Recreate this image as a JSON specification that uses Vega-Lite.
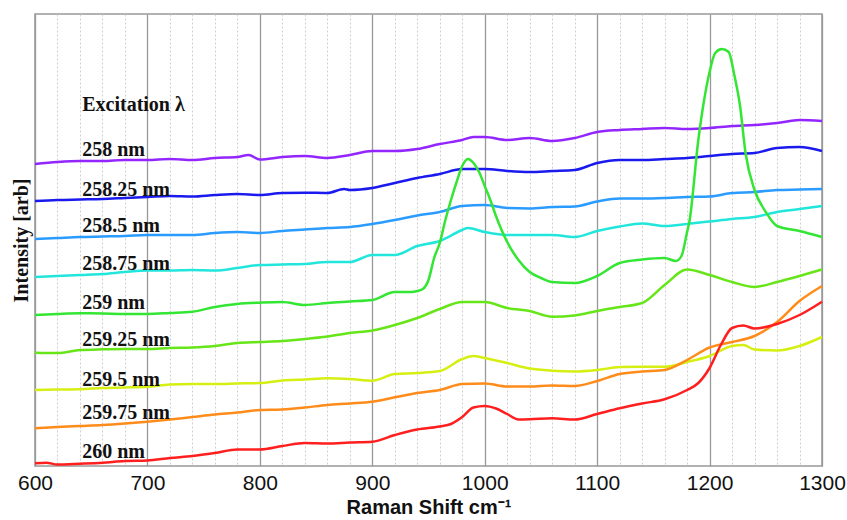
{
  "$schema": "https://vega.github.io/schema/vega-lite/v6.json",
  "autosize": "none",
  "width": 787,
  "height": 452,
  "padding": {"left": 35, "top": 14, "right": 25, "bottom": 54},
  "background": "white",
  "config": {"view": {"stroke": "#999999", "strokeWidth": 1.5}},
  "datasets": {
    "spectra": [
      {"s":"258","x":600,"y":302},{"s":"258","x":620,"y":304},{"s":"258","x":640,"y":305},{"s":"258","x":660,"y":305},{"s":"258","x":680,"y":306},{"s":"258","x":700,"y":306},{"s":"258","x":720,"y":307},{"s":"258","x":740,"y":306},{"s":"258","x":760,"y":308},{"s":"258","x":780,"y":309},{"s":"258","x":790,"y":311},{"s":"258","x":800,"y":306.5},{"s":"258","x":820,"y":309},{"s":"258","x":840,"y":310},{"s":"258","x":860,"y":308},{"s":"258","x":880,"y":311},{"s":"258","x":900,"y":315},{"s":"258","x":920,"y":315},{"s":"258","x":940,"y":317},{"s":"258","x":960,"y":322},{"s":"258","x":980,"y":326},{"s":"258","x":990,"y":329},{"s":"258","x":1000,"y":329},{"s":"258","x":1020,"y":326},{"s":"258","x":1040,"y":328},{"s":"258","x":1060,"y":325},{"s":"258","x":1080,"y":328},{"s":"258","x":1100,"y":334},{"s":"258","x":1120,"y":336},{"s":"258","x":1140,"y":337},{"s":"258","x":1160,"y":338},{"s":"258","x":1180,"y":337},{"s":"258","x":1200,"y":338},{"s":"258","x":1220,"y":340},{"s":"258","x":1240,"y":341},{"s":"258","x":1260,"y":343},{"s":"258","x":1280,"y":346},{"s":"258","x":1300,"y":345},

      {"s":"258.25","x":600,"y":265},{"s":"258.25","x":620,"y":266},{"s":"258.25","x":640,"y":266.5},{"s":"258.25","x":660,"y":267},{"s":"258.25","x":680,"y":268},{"s":"258.25","x":700,"y":269},{"s":"258.25","x":720,"y":270},{"s":"258.25","x":740,"y":269.5},{"s":"258.25","x":760,"y":271},{"s":"258.25","x":780,"y":272},{"s":"258.25","x":800,"y":271},{"s":"258.25","x":820,"y":273},{"s":"258.25","x":840,"y":273.3},{"s":"258.25","x":860,"y":273},{"s":"258.25","x":875,"y":277},{"s":"258.25","x":880,"y":276},{"s":"258.25","x":900,"y":278},{"s":"258.25","x":920,"y":283},{"s":"258.25","x":940,"y":288},{"s":"258.25","x":960,"y":292},{"s":"258.25","x":980,"y":297},{"s":"258.25","x":1000,"y":297},{"s":"258.25","x":1020,"y":295},{"s":"258.25","x":1040,"y":294},{"s":"258.25","x":1060,"y":295},{"s":"258.25","x":1080,"y":296},{"s":"258.25","x":1100,"y":303},{"s":"258.25","x":1120,"y":306},{"s":"258.25","x":1140,"y":306},{"s":"258.25","x":1160,"y":307},{"s":"258.25","x":1180,"y":308},{"s":"258.25","x":1200,"y":310},{"s":"258.25","x":1220,"y":312},{"s":"258.25","x":1240,"y":313},{"s":"258.25","x":1260,"y":318},{"s":"258.25","x":1280,"y":319},{"s":"258.25","x":1300,"y":315},

      {"s":"258.5","x":600,"y":227},{"s":"258.5","x":620,"y":228},{"s":"258.5","x":640,"y":229},{"s":"258.5","x":660,"y":229.5},{"s":"258.5","x":680,"y":230},{"s":"258.5","x":700,"y":231},{"s":"258.5","x":720,"y":231},{"s":"258.5","x":740,"y":231},{"s":"258.5","x":760,"y":233},{"s":"258.5","x":780,"y":234},{"s":"258.5","x":800,"y":233},{"s":"258.5","x":820,"y":235},{"s":"258.5","x":840,"y":236.5},{"s":"258.5","x":860,"y":238},{"s":"258.5","x":880,"y":239},{"s":"258.5","x":900,"y":242},{"s":"258.5","x":920,"y":246},{"s":"258.5","x":940,"y":250.5},{"s":"258.5","x":960,"y":254},{"s":"258.5","x":980,"y":260},{"s":"258.5","x":1000,"y":261},{"s":"258.5","x":1020,"y":258},{"s":"258.5","x":1040,"y":257.5},{"s":"258.5","x":1060,"y":259},{"s":"258.5","x":1080,"y":259.5},{"s":"258.5","x":1100,"y":264.5},{"s":"258.5","x":1120,"y":267.5},{"s":"258.5","x":1140,"y":267.5},{"s":"258.5","x":1160,"y":268},{"s":"258.5","x":1180,"y":269},{"s":"258.5","x":1200,"y":269.5},{"s":"258.5","x":1220,"y":273},{"s":"258.5","x":1240,"y":274},{"s":"258.5","x":1260,"y":276},{"s":"258.5","x":1280,"y":276.5},{"s":"258.5","x":1300,"y":277},

      {"s":"258.75","x":600,"y":189},{"s":"258.75","x":620,"y":190},{"s":"258.75","x":640,"y":191},{"s":"258.75","x":660,"y":192},{"s":"258.75","x":680,"y":194},{"s":"258.75","x":700,"y":195.5},{"s":"258.75","x":720,"y":195.5},{"s":"258.75","x":740,"y":196},{"s":"258.75","x":760,"y":195.5},{"s":"258.75","x":780,"y":198},{"s":"258.75","x":800,"y":201},{"s":"258.75","x":820,"y":201.5},{"s":"258.75","x":840,"y":202},{"s":"258.75","x":860,"y":204},{"s":"258.75","x":880,"y":204},{"s":"258.75","x":900,"y":211},{"s":"258.75","x":920,"y":211},{"s":"258.75","x":940,"y":220},{"s":"258.75","x":960,"y":225},{"s":"258.75","x":980,"y":236},{"s":"258.75","x":985,"y":238},{"s":"258.75","x":1000,"y":234},{"s":"258.75","x":1020,"y":231},{"s":"258.75","x":1040,"y":231},{"s":"258.75","x":1060,"y":231},{"s":"258.75","x":1080,"y":229},{"s":"258.75","x":1100,"y":235},{"s":"258.75","x":1120,"y":239.5},{"s":"258.75","x":1140,"y":242.5},{"s":"258.75","x":1160,"y":240},{"s":"258.75","x":1180,"y":242},{"s":"258.75","x":1200,"y":244.5},{"s":"258.75","x":1220,"y":247},{"s":"258.75","x":1240,"y":249},{"s":"258.75","x":1260,"y":254},{"s":"258.75","x":1280,"y":257},{"s":"258.75","x":1300,"y":260},

      {"s":"259","x":600,"y":151},{"s":"259","x":620,"y":152},{"s":"259","x":640,"y":152.7},{"s":"259","x":660,"y":152.5},{"s":"259","x":680,"y":152},{"s":"259","x":700,"y":152},{"s":"259","x":720,"y":153},{"s":"259","x":740,"y":154.3},{"s":"259","x":760,"y":159},{"s":"259","x":780,"y":162},{"s":"259","x":800,"y":163.3},{"s":"259","x":820,"y":164},{"s":"259","x":840,"y":161},{"s":"259","x":860,"y":163},{"s":"259","x":880,"y":164.5},{"s":"259","x":900,"y":166},{"s":"259","x":920,"y":174},{"s":"259","x":935,"y":174},{"s":"259","x":940,"y":175},{"s":"259","x":945,"y":177},{"s":"259","x":950,"y":186},{"s":"259","x":955,"y":208},{"s":"259","x":960,"y":223},{"s":"259","x":965,"y":246},{"s":"259","x":970,"y":266},{"s":"259","x":975,"y":284},{"s":"259","x":980,"y":300},{"s":"259","x":985,"y":307},{"s":"259","x":990,"y":303},{"s":"259","x":995,"y":294},{"s":"259","x":1000,"y":280},{"s":"259","x":1005,"y":266},{"s":"259","x":1010,"y":250},{"s":"259","x":1015,"y":236},{"s":"259","x":1020,"y":224},{"s":"259","x":1030,"y":206},{"s":"259","x":1040,"y":194},{"s":"259","x":1050,"y":188},{"s":"259","x":1060,"y":184},{"s":"259","x":1080,"y":183},{"s":"259","x":1100,"y":190},{"s":"259","x":1120,"y":203},{"s":"259","x":1140,"y":206.5},{"s":"259","x":1160,"y":208},{"s":"259","x":1170,"y":205},{"s":"259","x":1175,"y":210},{"s":"259","x":1180,"y":234},{"s":"259","x":1182,"y":244},{"s":"259","x":1190,"y":326},{"s":"259","x":1200,"y":394},{"s":"259","x":1205,"y":413},{"s":"259","x":1211,"y":417},{"s":"259","x":1217,"y":414},{"s":"259","x":1222,"y":391},{"s":"259","x":1227,"y":361},{"s":"259","x":1232,"y":313},{"s":"259","x":1240,"y":276},{"s":"259","x":1250,"y":254},{"s":"259","x":1260,"y":240},{"s":"259","x":1280,"y":235},{"s":"259","x":1300,"y":229},

      {"s":"259.25","x":600,"y":113.3},{"s":"259.25","x":620,"y":113},{"s":"259.25","x":640,"y":116},{"s":"259.25","x":660,"y":116.7},{"s":"259.25","x":680,"y":117},{"s":"259.25","x":700,"y":117},{"s":"259.25","x":720,"y":118},{"s":"259.25","x":740,"y":118.5},{"s":"259.25","x":760,"y":120},{"s":"259.25","x":780,"y":123},{"s":"259.25","x":800,"y":124},{"s":"259.25","x":820,"y":125},{"s":"259.25","x":840,"y":127},{"s":"259.25","x":860,"y":129.5},{"s":"259.25","x":880,"y":133},{"s":"259.25","x":900,"y":135.5},{"s":"259.25","x":920,"y":141},{"s":"259.25","x":940,"y":148},{"s":"259.25","x":960,"y":157},{"s":"259.25","x":980,"y":164},{"s":"259.25","x":1000,"y":164},{"s":"259.25","x":1020,"y":158},{"s":"259.25","x":1040,"y":155},{"s":"259.25","x":1060,"y":149.3},{"s":"259.25","x":1080,"y":150.5},{"s":"259.25","x":1100,"y":155},{"s":"259.25","x":1120,"y":159},{"s":"259.25","x":1140,"y":163},{"s":"259.25","x":1160,"y":181},{"s":"259.25","x":1180,"y":196.5},{"s":"259.25","x":1200,"y":191},{"s":"259.25","x":1220,"y":184},{"s":"259.25","x":1240,"y":179},{"s":"259.25","x":1260,"y":184},{"s":"259.25","x":1280,"y":190},{"s":"259.25","x":1300,"y":196.5},

      {"s":"259.5","x":600,"y":76},{"s":"259.5","x":620,"y":76.5},{"s":"259.5","x":640,"y":76.7},{"s":"259.5","x":660,"y":78},{"s":"259.5","x":680,"y":78.5},{"s":"259.5","x":700,"y":79.3},{"s":"259.5","x":720,"y":81.5},{"s":"259.5","x":740,"y":82},{"s":"259.5","x":760,"y":82},{"s":"259.5","x":780,"y":82.5},{"s":"259.5","x":800,"y":83},{"s":"259.5","x":820,"y":85.5},{"s":"259.5","x":840,"y":86.5},{"s":"259.5","x":860,"y":87.7},{"s":"259.5","x":880,"y":87},{"s":"259.5","x":900,"y":85.3},{"s":"259.5","x":920,"y":92},{"s":"259.5","x":940,"y":93},{"s":"259.5","x":960,"y":95},{"s":"259.5","x":980,"y":107},{"s":"259.5","x":990,"y":110},{"s":"259.5","x":1000,"y":108},{"s":"259.5","x":1020,"y":103},{"s":"259.5","x":1040,"y":97.5},{"s":"259.5","x":1060,"y":95.3},{"s":"259.5","x":1080,"y":94.5},{"s":"259.5","x":1100,"y":96},{"s":"259.5","x":1120,"y":99},{"s":"259.5","x":1140,"y":99.3},{"s":"259.5","x":1160,"y":99.3},{"s":"259.5","x":1180,"y":104},{"s":"259.5","x":1200,"y":110},{"s":"259.5","x":1220,"y":120},{"s":"259.5","x":1230,"y":121},{"s":"259.5","x":1240,"y":116.5},{"s":"259.5","x":1260,"y":115.5},{"s":"259.5","x":1280,"y":120},{"s":"259.5","x":1300,"y":129},

      {"s":"259.75","x":600,"y":37.7},{"s":"259.75","x":620,"y":39},{"s":"259.75","x":640,"y":40},{"s":"259.75","x":660,"y":41},{"s":"259.75","x":680,"y":42.5},{"s":"259.75","x":700,"y":44.3},{"s":"259.75","x":720,"y":46.5},{"s":"259.75","x":740,"y":49},{"s":"259.75","x":760,"y":51.5},{"s":"259.75","x":780,"y":53.5},{"s":"259.75","x":800,"y":56},{"s":"259.75","x":820,"y":56.5},{"s":"259.75","x":840,"y":58.5},{"s":"259.75","x":860,"y":61},{"s":"259.75","x":880,"y":62.5},{"s":"259.75","x":900,"y":64.3},{"s":"259.75","x":920,"y":68.7},{"s":"259.75","x":940,"y":73},{"s":"259.75","x":960,"y":76},{"s":"259.75","x":980,"y":82},{"s":"259.75","x":1000,"y":82.5},{"s":"259.75","x":1020,"y":79.5},{"s":"259.75","x":1040,"y":79.5},{"s":"259.75","x":1060,"y":80.5},{"s":"259.75","x":1080,"y":80},{"s":"259.75","x":1100,"y":85},{"s":"259.75","x":1120,"y":92},{"s":"259.75","x":1140,"y":94.5},{"s":"259.75","x":1160,"y":96},{"s":"259.75","x":1180,"y":106},{"s":"259.75","x":1200,"y":118.5},{"s":"259.75","x":1220,"y":124},{"s":"259.75","x":1240,"y":130},{"s":"259.75","x":1260,"y":144},{"s":"259.75","x":1280,"y":165},{"s":"259.75","x":1300,"y":180},

      {"s":"260","x":600,"y":2.7},{"s":"260","x":610,"y":3.3},{"s":"260","x":620,"y":1.5},{"s":"260","x":640,"y":2.3},{"s":"260","x":660,"y":3.3},{"s":"260","x":680,"y":5},{"s":"260","x":700,"y":5.5},{"s":"260","x":720,"y":8},{"s":"260","x":740,"y":10},{"s":"260","x":760,"y":13},{"s":"260","x":780,"y":16.5},{"s":"260","x":800,"y":16.5},{"s":"260","x":820,"y":20},{"s":"260","x":840,"y":23},{"s":"260","x":860,"y":22.5},{"s":"260","x":880,"y":23.5},{"s":"260","x":900,"y":24.3},{"s":"260","x":920,"y":31},{"s":"260","x":940,"y":36.5},{"s":"260","x":960,"y":39.5},{"s":"260","x":970,"y":42},{"s":"260","x":980,"y":49},{"s":"260","x":990,"y":58.5},{"s":"260","x":1000,"y":60},{"s":"260","x":1010,"y":57.5},{"s":"260","x":1020,"y":52},{"s":"260","x":1030,"y":46.5},{"s":"260","x":1040,"y":46.7},{"s":"260","x":1060,"y":47.7},{"s":"260","x":1080,"y":46.5},{"s":"260","x":1100,"y":52},{"s":"260","x":1120,"y":57.7},{"s":"260","x":1140,"y":62.5},{"s":"260","x":1160,"y":66.7},{"s":"260","x":1180,"y":76},{"s":"260","x":1190,"y":83},{"s":"260","x":1200,"y":98},{"s":"260","x":1210,"y":121},{"s":"260","x":1220,"y":138},{"s":"260","x":1230,"y":140.5},{"s":"260","x":1240,"y":137.5},{"s":"260","x":1260,"y":142},{"s":"260","x":1280,"y":151},{"s":"260","x":1300,"y":164.3}
    ],
    "labels": [
      {"t":"Excitation λ","x":642,"y":355},
      {"t":"258 nm","x":642,"y":310},
      {"t":"258.25 nm","x":642,"y":270},
      {"t":"258.5 nm","x":642,"y":234},
      {"t":"258.75 nm","x":642,"y":196},
      {"t":"259 nm","x":642,"y":157},
      {"t":"259.25 nm","x":642,"y":120},
      {"t":"259.5 nm","x":642,"y":80},
      {"t":"259.75 nm","x":642,"y":47},
      {"t":"260 nm","x":642,"y":8}
    ]
  },
  "layer": [
    {
      "data": {"name": "spectra"},
      "mark": {"type": "line", "strokeWidth": 2.5, "interpolate": "monotone"},
      "encoding": {
        "x": {
          "field": "x", "type": "quantitative",
          "scale": {"domain": [600, 1300], "nice": false, "zero": false},
          "axis": {
            "title": "Raman Shift cm⁻¹",
            "titleFont": "Liberation Sans", "titleFontSize": 20, "titleFontWeight": "bold", "titleColor": "#111111", "titlePadding": 4,
            "values": [600,620,640,660,680,700,720,740,760,780,800,820,840,860,880,900,920,940,960,980,1000,1020,1040,1060,1080,1100,1120,1140,1160,1180,1200,1220,1240,1260,1280,1300],
            "tickCount": 100,
            "labelExpr": "abs(datum.value / 100 - round(datum.value / 100)) < 0.01 ? format(datum.value, 'd') : ''",
            "labelFont": "Liberation Sans", "labelFontSize": 21, "labelColor": "#111111", "labelPadding": 6,
            "labelOverlap": false, "labelFlush": false, "labelBound": false,
            "ticks": false, "tickSize": 0, "domain": false,
            "grid": true,
            "gridColor": {"condition": {"test": "abs(datum.value / 100 - round(datum.value / 100)) < 0.01", "value": "#999999"}, "value": "#cfcfcf"},
            "gridDash": {"condition": {"test": "abs(datum.value / 100 - round(datum.value / 100)) < 0.01", "value": []}, "value": [2, 2]},
            "gridWidth": {"condition": {"test": "abs(datum.value / 100 - round(datum.value / 100)) < 0.01", "value": 1.3}, "value": 1}
          }
        },
        "y": {
          "field": "y", "type": "quantitative",
          "scale": {"domain": [0, 452], "nice": false, "zero": false},
          "axis": {
            "title": "Intensity [arb]",
            "titleFont": "Liberation Serif", "titleFontSize": 20, "titleFontWeight": "bold", "titleColor": "#111111", "titlePadding": 4,
            "labels": false, "ticks": false, "domain": false, "grid": false
          }
        },
        "color": {
          "field": "s", "type": "nominal", "legend": null,
          "scale": {
            "domain": ["258","258.25","258.5","258.75","259","259.25","259.5","259.75","260"],
            "range": ["#9326ff","#1a1aee","#2a9cff","#22e6dc","#33e633","#66e619","#d6ef12","#ff8c1a","#ff1f1f"]
          }
        },
        "order": {"field": "x", "type": "quantitative"}
      }
    },
    {
      "data": {"name": "labels"},
      "mark": {"type": "text", "align": "left", "baseline": "alphabetic", "font": "Liberation Serif", "fontSize": 20, "fontWeight": "bold", "color": "#111111"},
      "encoding": {
        "x": {"field": "x", "type": "quantitative"},
        "y": {"field": "y", "type": "quantitative"},
        "text": {"field": "t", "type": "nominal"}
      }
    }
  ]
}
